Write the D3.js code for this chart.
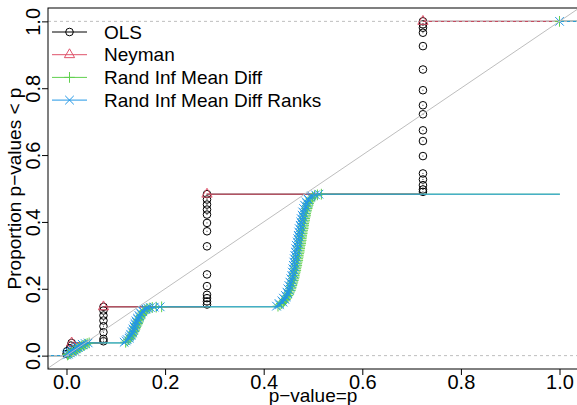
<!DOCTYPE html>
<html><head><meta charset="utf-8">
<script src="https://cdn.jsdelivr.net/npm/d3@7"></script>
<style>body{margin:0;background:#fff}svg{display:block}</style>
</head><body><svg id="c" width="577" height="405"></svg>
<script>
// ---------- data (ECDF knots: p-value, proportion) ----------
const seriesNames = ["OLS", "Neyman", "Rand Inf Mean Diff", "Rand Inf Mean Diff Ranks"];
const xTicks = [0, 0.2, 0.4, 0.6, 0.8, 1.0];
const yTicks = [0, 0.2, 0.4, 0.6, 0.8, 1.0];

const olsP = [0.000, 0.001, 0.007, 0.009, 0.0105,
  0.075, 0.075, 0.075, 0.075, 0.075, 0.075, 0.075, 0.075,
  0.285, 0.285, 0.285, 0.285, 0.285, 0.285, 0.285, 0.285, 0.285, 0.285, 0.285, 0.285, 0.285, 0.285,
  0.723, 0.723, 0.723, 0.723, 0.723, 0.723, 0.723, 0.723, 0.723, 0.723, 0.723, 0.723, 0.723, 0.723, 0.723, 0.723, 0.723];
const olsF = [0.005, 0.013, 0.022, 0.030, 0.038,
  0.043, 0.050, 0.070, 0.088, 0.105, 0.120, 0.135, 0.146,
  0.153, 0.162, 0.172, 0.182, 0.208, 0.243, 0.327, 0.372, 0.397, 0.422, 0.437, 0.452, 0.467, 0.483,
  0.490, 0.497, 0.510, 0.527, 0.545, 0.597, 0.642, 0.674, 0.722, 0.749, 0.794, 0.856, 0.926, 0.966, 0.981, 0.991, 1.000];

const neymanP = [0.0105, 0.075, 0.285, 0.723];
const neymanF = [0.038, 0.146, 0.483, 1.000];

// proportions shared by both randomization-inference series
const randF = [
  0.002, 0.004, 0.006, 0.008, 0.010, 0.012, 0.014, 0.016, 0.018, 0.020, 0.022, 0.024, 0.026, 0.028, 0.030, 0.032, 0.034, 0.036, 0.038,
  0.040, 0.044, 0.048, 0.052, 0.056, 0.060, 0.064, 0.068, 0.072, 0.076, 0.080, 0.084, 0.088, 0.092, 0.096, 0.100,
  0.104, 0.108, 0.112, 0.116, 0.120, 0.124, 0.128, 0.132, 0.135, 0.138, 0.140, 0.142, 0.144, 0.145, 0.146,
  0.148, 0.152, 0.156, 0.160, 0.164, 0.168, 0.172, 0.176, 0.180, 0.185, 0.190, 0.195, 0.200, 0.205, 0.210, 0.215,
  0.220, 0.225, 0.230, 0.235, 0.240, 0.245, 0.250, 0.255, 0.260, 0.265, 0.270, 0.275, 0.280, 0.285, 0.290, 0.295,
  0.300, 0.305, 0.310, 0.315, 0.320, 0.325, 0.330, 0.335, 0.340, 0.345, 0.350, 0.355, 0.360, 0.365, 0.370, 0.375,
  0.380, 0.385, 0.390, 0.395, 0.400, 0.405, 0.410, 0.415, 0.420, 0.425, 0.430, 0.435, 0.440, 0.445, 0.450, 0.455,
  0.460, 0.465, 0.470, 0.474, 0.478, 0.481, 0.483,
  1.000];

const meanDiffP = [
  0.002, 0.004, 0.007, 0.009, 0.011, 0.013, 0.016, 0.018, 0.020, 0.022, 0.025, 0.027, 0.029, 0.031, 0.034, 0.036, 0.039, 0.042, 0.046,
  0.120, 0.123, 0.126, 0.129, 0.131, 0.132, 0.134, 0.135, 0.137, 0.138, 0.139, 0.140, 0.141, 0.143, 0.144, 0.145,
  0.146, 0.147, 0.149, 0.150, 0.152, 0.153, 0.155, 0.157, 0.159, 0.162, 0.165, 0.169, 0.174, 0.182, 0.193,
  0.429, 0.433, 0.436, 0.440, 0.442, 0.444, 0.446, 0.447, 0.449, 0.451, 0.452, 0.454, 0.455, 0.456, 0.457, 0.458,
  0.459, 0.460, 0.461, 0.462, 0.462, 0.463, 0.464, 0.465, 0.465, 0.466, 0.467, 0.467, 0.468, 0.469, 0.469, 0.470,
  0.470, 0.471, 0.472, 0.472, 0.473, 0.473, 0.474, 0.475, 0.475, 0.476, 0.476, 0.477, 0.477, 0.478, 0.478, 0.479,
  0.480, 0.480, 0.481, 0.481, 0.482, 0.483, 0.483, 0.484, 0.485, 0.485, 0.486, 0.487, 0.488, 0.489, 0.490, 0.491,
  0.492, 0.494, 0.496, 0.499, 0.503, 0.509, 0.517,
  1.000];

const ranksP = [
  0.000, 0.004, 0.002, 0.008, 0.006, 0.012, 0.010, 0.016, 0.014, 0.020, 0.018, 0.024, 0.022, 0.028, 0.027, 0.033, 0.032, 0.038, 0.044,
  0.117, 0.121, 0.123, 0.127, 0.128, 0.131, 0.130, 0.134, 0.133, 0.136, 0.135, 0.138, 0.137, 0.140, 0.139, 0.142,
  0.141, 0.145, 0.144, 0.148, 0.147, 0.151, 0.150, 0.155, 0.154, 0.159, 0.161, 0.165, 0.170, 0.178, 0.190,
  0.426, 0.432, 0.431, 0.439, 0.437, 0.443, 0.440, 0.446, 0.444, 0.449, 0.447, 0.452, 0.449, 0.454, 0.451, 0.456,
  0.453, 0.458, 0.455, 0.459, 0.457, 0.461, 0.458, 0.462, 0.459, 0.463, 0.460, 0.464, 0.461, 0.465, 0.462, 0.466,
  0.463, 0.467, 0.464, 0.468, 0.465, 0.469, 0.466, 0.470, 0.468, 0.471, 0.469, 0.472, 0.470, 0.474, 0.471, 0.475,
  0.472, 0.476, 0.474, 0.477, 0.475, 0.479, 0.476, 0.480, 0.478, 0.482, 0.479, 0.484, 0.481, 0.486, 0.483, 0.488,
  0.486, 0.491, 0.489, 0.495, 0.497, 0.505, 0.512,
  1.000];

// ---------- setup ----------
const FONT = "'Liberation Sans', Arial, Helvetica, sans-serif";
const colors = ["#000000", "#DF536B", "#61D04F", "#2297E6"];
const shapes = ["circle", "triangle", "plus", "cross"];
const svg = d3.select("#c");
const xDom = [-0.0375, 1.0375], yDom = [-0.04, 1.04];
const x = d3.scaleLinear().domain(xDom).range([48, 578]);
const y = d3.scaleLinear().domain(yDom).range([369, 8]);

svg.append("defs").append("clipPath").attr("id", "clip")
  .append("rect").attr("x", 48).attr("y", 8).attr("width", 530).attr("height", 361);
const plot = svg.append("g").attr("clip-path", "url(#clip)");

const R = 3.8;
function symbolPath(shape, cx, cy) {
  if (shape === "circle") {
    return `M${cx + R},${cy}A${R},${R} 0 1,1 ${cx - R},${cy}A${R},${R} 0 1,1 ${cx + R},${cy}Z`;
  } else if (shape === "triangle") {
    const r = R * 1.555, w = r * Math.sqrt(3) / 2;
    return `M${cx},${cy - r}L${cx + w},${cy + r / 2}L${cx - w},${cy + r / 2}Z`;
  } else if (shape === "plus") {
    const h = R * Math.SQRT2;
    return `M${cx - h},${cy}L${cx + h},${cy}M${cx},${cy - h}L${cx},${cy + h}`;
  } else {
    const h = 4.3;
    return `M${cx - h},${cy - h}L${cx + h},${cy + h}M${cx - h},${cy + h}L${cx + h},${cy - h}`;
  }
}

function drawEcdf(P, F, color, shape) {
  const n = Math.min(P.length, F.length);
  const segs = [[xDom[0], 0, P[0], 0]];
  for (let i = 0; i < n - 1; i++) segs.push([P[i], F[i], P[i + 1], F[i]]);
  segs.push([P[n - 1], F[n - 1], xDom[1], F[n - 1]]);
  const g = plot.append("g");
  g.selectAll("line").data(segs).join("line")
    .attr("x1", d => x(d[0])).attr("y1", d => y(d[1]))
    .attr("x2", d => x(d[2])).attr("y2", d => y(d[3]))
    .attr("stroke", color).attr("stroke-width", 1).attr("stroke-linecap", "round");
  g.selectAll("path").data(d3.range(n).map(i => [P[i], F[i]])).join("path")
    .attr("d", d => symbolPath(shape, x(d[0]), y(d[1])))
    .attr("fill", "none").attr("stroke", color).attr("stroke-width", 1);
}

drawEcdf(olsP, olsF, colors[0], shapes[0]);
drawEcdf(neymanP, neymanF, colors[1], shapes[1]);
drawEcdf(meanDiffP, randF, colors[2], shapes[2]);
drawEcdf(ranksP, randF, colors[3], shapes[3]);

// reference lines
plot.append("line")
  .attr("x1", x(xDom[0])).attr("y1", y(xDom[0])).attr("x2", x(xDom[1])).attr("y2", y(xDom[1]))
  .attr("stroke", "#BEBEBE").attr("stroke-width", 1);
plot.selectAll(".hl").data([0, 1]).join("line").attr("class", "hl")
  .attr("x1", x(xDom[0])).attr("x2", x(xDom[1]))
  .attr("y1", d => y(d)).attr("y2", d => y(d))
  .attr("stroke", "#BEBEBE").attr("stroke-width", 1).attr("stroke-dasharray", "3,3");

// box
svg.append("rect").attr("x", 48).attr("y", 8).attr("width", 530).attr("height", 361)
  .attr("fill", "none").attr("stroke", "#000").attr("stroke-width", 1);

// axes
const fmt = d3.format(".1f");
const xa = svg.append("g").attr("transform", "translate(0,369)")
  .call(d3.axisBottom(x).tickValues(xTicks).tickFormat(fmt).tickSize(6).tickPadding(0));
xa.select(".domain").remove();
xa.selectAll("text").attr("font-family", FONT).attr("font-size", 20).attr("fill", "#000");
xa.selectAll("line").attr("stroke", "#000");

const ya = svg.append("g").attr("transform", "translate(48,0)")
  .call(d3.axisLeft(y).tickValues(yTicks).tickFormat(fmt).tickSize(6));
ya.select(".domain").remove();
ya.selectAll("line").attr("stroke", "#000");
ya.selectAll("text").attr("font-family", FONT).attr("font-size", 20).attr("fill", "#000")
  .attr("transform", "rotate(-90)").attr("x", 0).attr("y", -8).attr("dy", 0)
  .attr("text-anchor", "middle");

// axis titles
svg.append("text").attr("x", 313).attr("y", 402).attr("text-anchor", "middle")
  .attr("font-family", FONT).attr("font-size", 19).text("p\u2212value=p");
svg.append("text").attr("transform", "translate(21,188.5) rotate(-90)").attr("text-anchor", "middle")
  .attr("font-family", FONT).attr("font-size", 19).text("Proportion p\u2212values < p");

// legend
const leg = svg.append("g");
const rowY = i => 32 + i * 22.7;
seriesNames.forEach((name, i) => {
  leg.append("line").attr("x1", 52).attr("x2", 87).attr("y1", rowY(i)).attr("y2", rowY(i))
    .attr("stroke", colors[i]).attr("stroke-width", 1);
  leg.append("path").attr("d", symbolPath(shapes[i], 69.5, rowY(i)))
    .attr("fill", "none").attr("stroke", colors[i]).attr("stroke-width", 1);
  leg.append("text").attr("x", 104).attr("y", rowY(i)).attr("dy", "0.35em")
    .attr("font-family", FONT).attr("font-size", 19).text(name);
});
</script></body></html>
